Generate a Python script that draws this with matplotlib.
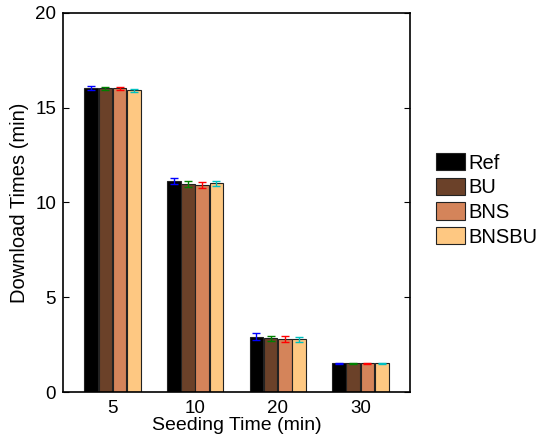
import numpy as np
import matplotlib
matplotlib.use("Agg")
import matplotlib.pyplot as plt

plt.rcParams['font.family'] = ['Liberation Sans', 'DejaVu Sans']

seeding_times = ['5', '10', '20', '30']
series_names = ['Ref', 'BU', 'BNS', 'BNSBU']
ref = [16.03, 11.13, 2.92, 1.51]
bu = [16.02, 10.96, 2.83, 1.51]
bns = [16.01, 10.92, 2.80, 1.51]
bnsbu = [15.92, 11.01, 2.78, 1.51]
ref_err = [0.10, 0.18, 0.20, 0.03]
bu_err = [0.08, 0.16, 0.15, 0.03]
bns_err = [0.08, 0.16, 0.14, 0.03]
bnsbu_err = [0.07, 0.14, 0.12, 0.03]

bar_colors = ['#000000', '#6b4129', '#d4845a', '#fec882']
err_colors = ['#0000ff', '#008000', '#ff0000', '#00c0c0']

values = [ref, bu, bns, bnsbu]
errors = [ref_err, bu_err, bns_err, bnsbu_err]

fig = plt.figure(figsize=(5.38, 4.42), dpi=100)
ax = fig.add_axes([0.117, 0.113, 0.645, 0.858])

x = np.arange(1, len(seeding_times) + 1)
width = 0.165
for i in range(4):
    pos = x + (i - 1.5) * 0.172
    ax.bar(pos, values[i], width, color=bar_colors[i], edgecolor='#222222',
           linewidth=0.8, label=series_names[i])
    ax.errorbar(pos, values[i], yerr=errors[i], fmt='none', ecolor=err_colors[i],
                elinewidth=1, capsize=3, capthick=1)

ax.set_xlim(0.4, 4.6)
ax.set_ylim(0, 20)
ax.set_xticks(x)
ax.set_xticklabels(seeding_times)
ax.set_yticks([0, 5, 10, 15, 20])
ax.tick_params(direction='in', labelsize=13.5, top=True, right=True, length=4, width=0.8)
ax.tick_params(axis='x', length=0, pad=6)
ax.tick_params(axis='y', pad=5)
for s in ax.spines.values():
    s.set_linewidth(1.2)

ax.set_xlabel('Seeding Time (min)', fontsize=14, labelpad=0)
ax.set_ylabel('Download Times (min)', fontsize=14.5, labelpad=4)

leg = ax.legend(loc='center left', bbox_to_anchor=(1.045, 0.507), frameon=False,
                fontsize=14.5, handlelength=1.45, handleheight=0.95, handletextpad=0.2,
                labelspacing=0.25, borderpad=0)

fig.savefig('out.png', dpi=100)
